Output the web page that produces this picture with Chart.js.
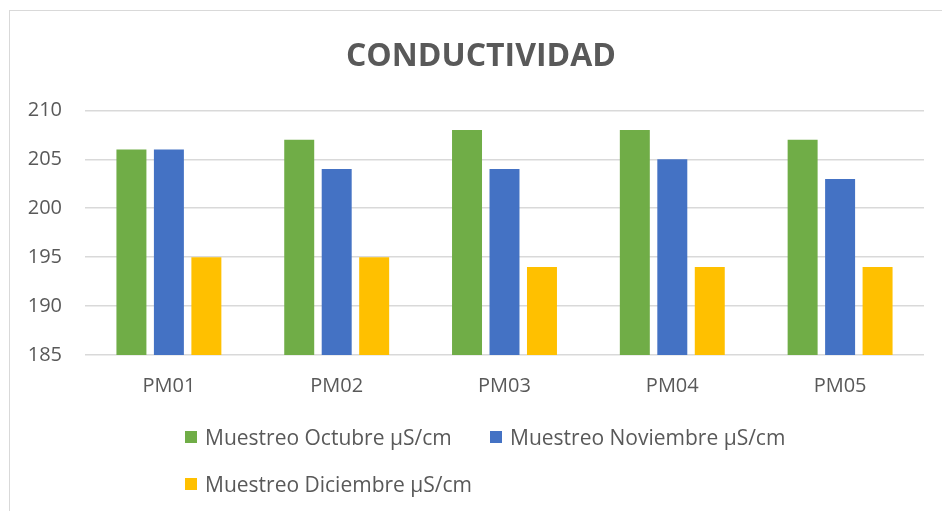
<!DOCTYPE html>
<html>
<head>
<meta charset="utf-8">
<script src="https://cdn.jsdelivr.net/npm/chart.js@4.4.1/dist/chart.umd.min.js"></script>
<style>
  html, body { margin: 0; padding: 0; background: #fff; overflow: hidden; }
  #wrap { position: relative; width: 942px; height: 511px; overflow: hidden; }
  #frame { position: absolute; left: 9px; top: 10px; width: 960px; height: 520px; border: 1px solid #D9D9D9; }
  canvas { position: absolute; left: 0; top: 0; }
  #legend { position: absolute; left: 185px; top: 423px; font-family: "Open Sans", sans-serif; font-size: 21px; color: #595959; }
  .item { position: absolute; white-space: nowrap; display: flex; align-items: center; }
  .box { width: 12px; height: 12px; margin-right: 8px; }
</style>
</head>
<body>
<div id="wrap">
  <div id="frame"></div>
  <canvas id="myChart" width="962" height="511"></canvas>
  <div id="legend"></div>
</div>
<script>
const categories = ['PM01', 'PM02', 'PM03', 'PM04', 'PM05']
const seriesNames = ['Muestreo Octubre µS/cm', 'Muestreo Noviembre µS/cm', 'Muestreo Diciembre µS/cm']
const octubre = [206, 207, 208, 208, 207]
const noviembre = [206, 204, 204, 205, 203]
const diciembre = [195, 195, 194, 194, 194]
const colors = ['#70AD47', '#4472C4', '#FFC000']
const yTicks = [185, 190, 195, 200, 205, 210]

const textColor = '#595959'
const font = 'Open Sans'

const ctx = document.getElementById('myChart')
const data = {
  labels: categories,
  datasets: [octubre, noviembre, diciembre].map((values, i) => ({
    label: seriesNames[i],
    data: values,
    backgroundColor: colors[i],
    borderWidth: 0,
    barPercentage: 0.8,
    categoryPercentage: 0.67
  }))
}

const chart = new Chart(ctx, {
  type: 'bar',
  data: data,
  options: {
    responsive: false,
    animation: false,
    layout: { padding: { left: 0, right: 0, top: 0, bottom: 94 } },
    plugins: {
      legend: { display: false },
      tooltip: { enabled: false },
      title: {
        display: true,
        text: 'CONDUCTIVIDAD',
        color: textColor,
        font: { family: font, size: 32, weight: 'bold' },
        padding: { top: 38, bottom: 34 }
      }
    },
    scales: {
      x: {
        grid: { display: false, drawTicks: false },
        border: { display: false },
        ticks: { color: textColor, font: { family: font, size: 20 }, padding: 19 }
      },
      y: {
        min: yTicks[0],
        max: yTicks[yTicks.length - 1],
        afterFit: (s) => { s.width = 85 },
        afterBuildTicks: (s) => { s.ticks = yTicks.map(v => ({ value: v })) },
        grid: { color: '#D9D9D9', lineWidth: 1.5, drawTicks: false },
        border: { display: false },
        ticks: { color: textColor, font: { family: font, size: 20 }, padding: 23 }
      },
      // empty right margin so the title centres on the full frame
      yRight: {
        position: 'right',
        afterFit: (s) => { s.width = 38 },
        grid: { display: false, drawTicks: false },
        border: { display: false },
        ticks: { display: false }
      }
    }
  }
})

// legend laid out like the original: two per row, left aligned
const legend = document.getElementById('legend')
const legendPos = [[0, 0], [305, 0], [0, 47]]
seriesNames.forEach((name, i) => {
  const el = document.createElement('div')
  el.className = 'item'
  el.style.left = legendPos[i][0] + 'px'
  el.style.top = legendPos[i][1] + 'px'
  el.innerHTML = '<span class="box" style="background:' + colors[i] + '"></span>' + name
  legend.appendChild(el)
})
</script>
</body>
</html>
